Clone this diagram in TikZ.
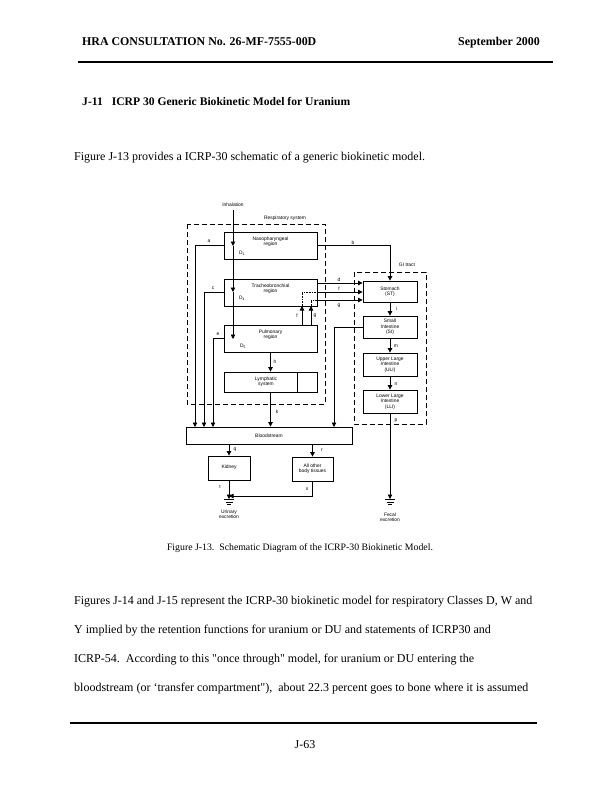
\documentclass[tikz,border=0pt]{standalone}
\usepackage{fontspec}
\setmainfont{Liberation Serif}
\newfontfamily\diag{Liberation Sans}
\usetikzlibrary{arrows.meta}
\begin{document}
\begin{tikzpicture}[x=1pt,y=-1pt,
  box/.style={draw,line width=0.8pt,inner sep=0pt},
  dbox/.style={draw,line width=0.9pt,dash pattern=on 5pt off 3pt},
  lab/.style={font=\diag\fontsize{4.9}{5.4}\selectfont,align=center,inner sep=0pt},
  ln/.style={line width=0.8pt},
  arr/.style={line width=0.8pt,-{Triangle[width=4.5pt,length=4.5pt]}},
  dotl/.style={line width=0.6pt,densely dotted},
  body/.style={anchor=base west,inner sep=0pt,font=\fontsize{12}{13}\selectfont},
]
\fill[white] (0,0) rectangle (611,792);
\useasboundingbox (0,0) rectangle (611,792);

% header
\node[anchor=base west,inner sep=0pt,font=\bfseries\fontsize{11.9}{14}\selectfont] (hdrL) at (82,46) {HRA CONSULTATION No. 26-MF-7555-00D};
\node[anchor=base east,inner sep=0pt,font=\bfseries\fontsize{11.9}{14}\selectfont] (hdrR) at (540,46) {September 2000};
\draw[line width=2.2pt] (78,62) -- (553,62);
\node[anchor=base west,inner sep=0pt,font=\bfseries\fontsize{11.6}{14}\selectfont] (sec) at (82,105) {J-11\hspace{9pt}ICRP 30 Generic Biokinetic Model for Uranium};
\node[body] (intro) at (74,160) {Figure J-13 provides a ICRP-30 schematic of a generic biokinetic model.};

% ---------------- diagram ----------------
\node[lab] (inhT) at (233,205) {Inhalation};
\node[lab] (respT) at (285,218) {Respiratory system};
\draw[dbox] (187,224) rectangle (325,404);
\draw[dbox] (354,272) rectangle (426,424);
\node[lab] (giT) at (407,265) {GI tract};

\node[box,minimum width=93pt,minimum height=27pt] (NP) at (270.5,245.5) {};
\node[lab] (NPt) at (270.5,242) {Nasopharyngeal\\region};
\node[box,minimum width=93pt,minimum height=27pt] (TB) at (270.5,292.5) {};
\node[lab] (TBt) at (270.5,289) {Tracheobronchial\\region};
\node[box,minimum width=93pt,minimum height=27pt] (PUL) at (270.5,338.5) {};
\node[lab] (PULt) at (270.5,335) {Pulmonary\\region};
\node[box,minimum width=93pt,minimum height=20pt] (LYM) at (270.5,382) {};
\draw[ln] (297,372) -- (297,392);
\node[lab] (LYMt) at (266,382) {Lymphatic\\system};
\node[box,minimum width=166pt,minimum height=17pt] (BL) at (269,435.5) {};
\node[lab] (BLt) at (269,435.5) {Bloodstream};
\node[box,minimum width=42pt,minimum height=24pt] (KID) at (229,468) {};
\node[lab] (KIDt) at (229,467) {Kidney};
\node[box,minimum width=41pt,minimum height=24pt] (OTH) at (312.5,469) {};
\node[lab] (OTHt) at (312.5,469) {All other\\body tissues};

\node[box,minimum width=54pt,minimum height=21pt] (ST) at (390,291.5) {};
\node[lab] (STt) at (390,291.5) {Stomach\\(ST)};
\node[box,minimum width=54pt,minimum height=22pt] (SI) at (390,327) {};
\node[lab] (SIt) at (390,327) {Small\\Intestine\\(SI)};
\node[box,minimum width=54pt,minimum height=23pt] (ULI) at (390,364.5) {};
\node[lab] (ULIt) at (390,364.5) {Upper Large\\Intestine\\(ULI)};
\node[box,minimum width=54pt,minimum height=23pt] (LLI) at (390,401.5) {};
\node[lab] (LLIt) at (390,401.5) {Lower Large\\Intestine\\(LLI)};

% inhalation line
\coordinate (inh) at (233,210);
\coordinate (d1) at (233,246);
\coordinate (d4) at (233,292);
\coordinate (d5) at (233,339);
\draw[arr] (inh) -- (d1);
\draw[arr] (d1) -- (d4);
\draw[arr] (d4) -- (d5);
\node[lab] (D1) at (242,253) {D\textsubscript{1}};
\node[lab] (D4) at (242,298) {D\textsubscript{4}};
\node[lab] (D5) at (243,346) {D\textsubscript{5}};

% to bloodstream
\coordinate (aB) at (195,427);
\coordinate (cB) at (204,427);
\coordinate (eB) at (213,427);
\coordinate (jB) at (334,427);
\draw[arr] (NP.west) -| (aB);
\draw[arr] (TB.west) -| (cB);
\draw[arr] (PUL.west) -| (eB);
\draw[arr] (PUL.south) -- (LYM.north);
\draw[arr] (LYM.south) -- (LYM.south |- BL.north);
\draw[arr] (SI.west) -| (jB);

% to stomach
\draw[arr] (NP.east) -| (ST.north);
\coordinate (dA) at (317,283);
\coordinate (fA) at (317,292);
\coordinate (gA) at (317,300);
\coordinate (fIn) at (302,292);
\coordinate (gIn) at (311,300);
\coordinate (fB) at (302,306);
\coordinate (gB) at (311,306);
\draw[arr] (dA) -- (dA -| ST.west);
\draw[arr] (fA) -- (fA -| ST.west);
\draw[arr] (gA) -- (gA -| ST.west);
\draw[dotl] (fB) -- (fIn) -- (fA);
\draw[dotl] (gB) -- (gIn) -- (gA);
\draw[arr] (fB |- PUL.north) -- (fB);
\draw[arr] (gB |- PUL.north) -- (gB);

% GI chain
\draw[arr] (ST.south) -- (SI.north);
\draw[arr] (SI.south) -- (ULI.north);
\draw[arr] (ULI.south) -- (LLI.north);
\coordinate (fec) at (390,499);
\draw[arr] (LLI.south) -- (fec);

% blood to organs
\draw[arr] (KID.north |- BL.south) -- (KID.north);
\draw[arr] (OTH.north |- BL.south) -- (OTH.north);
\coordinate (uri) at (229,499);
\coordinate (sJ) at (229,496);
\draw[arr] (KID.south) -- (uri);
\draw[arr] (OTH.south) |- (sJ);

% ground symbols
\foreach \gx in {229,390}{
  \draw[line width=0.6pt] (\gx-5,499.5) -- (\gx+5,499.5);
  \draw[line width=0.6pt] (\gx-3.5,501.8) -- (\gx+3.5,501.8);
  \draw[line width=0.6pt] (\gx-2,504) -- (\gx+2,504);
}
\node[lab] (urT) at (229,514) {Urinary\\excretion};
\node[lab] (fecT) at (390,517) {Fecal\\excretion};

% labels
\node[lab] (la) at (209,241) {a};
\node[lab] (lb) at (353,243) {b};
\node[lab] (lc) at (213,288) {c};
\node[lab] (ld) at (339,280) {d};
\node[lab] (lf) at (339,289) {f};
\node[lab] (lg) at (339,306) {g};
\node[lab] (le) at (218,334) {e};
\node[lab] (lf2) at (297,316) {f};
\node[lab] (lg2) at (315,316) {g};
\node[lab] (lh) at (275,362) {h};
\node[lab] (lk) at (277,412) {k};
\node[lab] (li) at (397,309) {i};
\node[lab] (lm) at (396,346) {m};
\node[lab] (ln) at (396,384) {n};
\node[lab] (lp) at (396,421) {p};
\node[lab] (lq) at (235,450) {q};
\node[lab] (lr) at (322,450) {r};
\node[lab] (lt) at (220,487) {t};
\node[lab] (ls) at (307,489) {s};

% caption
\node[anchor=base,inner sep=0pt,font=\fontsize{9.8}{11}\selectfont] (cap) at (300,550) {Figure J-13.\ \ Schematic Diagram of the ICRP-30 Biokinetic Model.};

% body text
\node[body] (p1) at (74,604) {Figures J-14 and J-15 represent the ICRP-30 biokinetic model for respiratory Classes D, W and};
\node[body] (p2) at (74,633) {Y implied by the retention functions for uranium or DU and statements of ICRP30 and};
\node[body] (p3) at (74,662) {ICRP-54.\ \ According to this \textquotedbl once through\textquotedbl\ model, for uranium or DU entering the};
\node[body] (p4) at (74,691) {bloodstream (or `transfer compartment\textquotedbl),\ \ about 22.3 percent goes to bone where it is assumed};
\draw[line width=2.2pt] (70,723) -- (537,723);
\node[anchor=base,inner sep=0pt,font=\fontsize{12}{13}\selectfont] (pg) at (305,748) {J-63};
\end{tikzpicture}
\end{document}
